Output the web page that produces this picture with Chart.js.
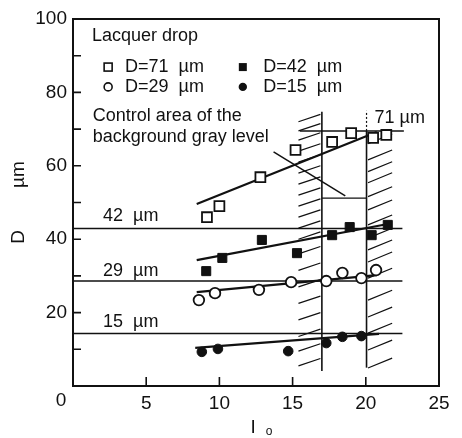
<!DOCTYPE html>
<html>
<head>
<meta charset="utf-8">
<script src="https://cdn.jsdelivr.net/npm/chart.js@4.4.1/dist/chart.umd.min.js"></script>
<style>
html, body { margin: 0; padding: 0; background: #fff; }
#wrap { width: 462px; height: 438px; }
</style>
</head>
<body>
<div id="wrap"><canvas id="chart"></canvas></div>
<script>
// 測定点 (I0, D)
const sq71X = [9.15, 10.0, 12.8, 15.2, 17.7, 19.0, 20.5, 21.4];
const sq71Y = [46.0, 49.0, 56.9, 64.3, 66.5, 68.9, 67.6, 68.4];
const sq42X = [9.1, 10.2, 12.9, 15.3, 17.7, 18.9, 20.4, 21.5];
const sq42Y = [31.3, 34.9, 39.8, 36.2, 41.1, 43.3, 41.1, 43.9];
const ci29X = [8.6, 9.7, 12.7, 14.9, 17.3, 18.4, 19.7, 20.7];
const ci29Y = [23.4, 25.3, 26.2, 28.3, 28.6, 30.8, 29.4, 31.6];
const ci15X = [8.8, 9.9, 14.7, 17.3, 18.4, 19.7];
const ci15Y = [9.3, 10.1, 9.5, 11.7, 13.4, 13.6];

// 近似直線 [x1, y1, x2, y2]
const fit71 = [8.45, 49.6, 20.75, 69.2];
const fit42 = [8.45, 34.3, 21.6, 44.2];
const fit29 = [8.45, 25.6, 20.75, 30.2];
const fit15 = [8.35, 10.4, 20.9, 14.2];

// 実際の粒径の水平線 [y, xStart, xEnd]
const ref71 = [69.5, 15.5, 22.6];
const ref42 = [42.9, 0, 22.5];
const ref29 = [28.6, 0, 22.5];
const ref15 = [14.3, 0, 22.5];

// 背景グレーレベルの制御範囲
const ctrlLeft = [17.0, 4.1, 74.7];    // x, yBottom, yTop
const ctrlRight = [20.05, 5.0, 69.5, 75.0]; // x, yBottom, ySolidTop, yDashTop
const ctrlBox = [51.2, 17.0, 20.05];  // y, x1, x2
const pointer = [13.7, 63.8, 18.6, 51.8];

// ハッチングの位置 (下端のy)
const hatchLeftY = [72, 69.5, 67, 64, 61, 58, 55, 52, 49, 46, 43, 40, 36, 31.5, 27, 22.5, 18, 13.5, 9.5, 5.5];
const hatchRightY = [66, 61.6, 58.4, 55.4, 51.6, 48.0, 43.9, 40.3, 37.1, 33.8, 29.4, 23.4, 18.8, 14.4, 9.8, 4.9];

// 目盛り
const xTickVals = [0, 5, 10, 15, 20, 25];
const yTickLabelVals = [20, 40, 60, 80, 100];

const FONT = "'Liberation Sans', Arial, sans-serif";

function pts(xs, ys) {
    return xs.map((x, i) => ({ x: x, y: ys[i] }));
}
function seg(a) {
    return [{ x: a[0], y: a[1] }, { x: a[2], y: a[3] }];
}
function hline(a) {
    return [{ x: a[1], y: a[0] }, { x: a[2], y: a[0] }];
}
function hatches(ys, x1, x2, rise) {
    const out = [];
    ys.forEach(y => {
        out.push({ x: x1, y: y });
        out.push({ x: x2, y: y + rise });
        out.push({ x: x2, y: null });
    });
    return out;
}

function lineDs(data, width, dash) {
    return {
        type: 'line',
        data: data,
        borderColor: '#111',
        borderWidth: width,
        borderDash: dash || [],
        pointRadius: 0,
        fill: false,
        tension: 0,
        spanGaps: false,
        order: 5,
    };
}

function pointDs(data, style, radius, filled) {
    return {
        type: 'scatter',
        data: data,
        pointStyle: style,
        pointRadius: radius,
        pointHoverRadius: radius,
        pointBorderWidth: filled ? 1 : 1.8,
        pointBorderColor: '#111',
        pointBackgroundColor: filled ? '#111' : '#fff',
        showLine: false,
        order: 1,
    };
}

const datasets = [
    pointDs(pts(sq71X, sq71Y), 'rect', 7, false),
    pointDs(pts(sq42X, sq42Y), 'rect', 6.4, true),
    pointDs(pts(ci29X, ci29Y), 'circle', 5.3, false),
    pointDs(pts(ci15X, ci15Y), 'circle', 4.8, true),
    lineDs(seg(fit71), 2.2),
    lineDs(seg(fit42), 2.2),
    lineDs(seg(fit29), 2.2),
    lineDs(seg(fit15), 2.2),
    lineDs(hline(ref71), 1.5),
    lineDs(hline(ref42), 1.5),
    lineDs(hline(ref29), 1.5),
    lineDs(hline(ref15), 1.5),
    lineDs([{ x: ctrlLeft[0], y: ctrlLeft[1] }, { x: ctrlLeft[0], y: ctrlLeft[2] }], 1.6),
    lineDs([{ x: ctrlRight[0], y: ctrlRight[1] }, { x: ctrlRight[0], y: ctrlRight[2] }], 1.6),
    lineDs([{ x: ctrlRight[0], y: ctrlRight[2] }, { x: ctrlRight[0], y: ctrlRight[3] }], 1.2, [2, 2]),
    lineDs(hline(ctrlBox), 1.4),
    lineDs(seg(pointer), 1.5),
    lineDs(hatches(hatchLeftY, 15.4, 16.9, 2.0), 1.2),
    lineDs(hatches(hatchRightY, 20.15, 21.8, 2.7), 1.2),
];

// 枠・内向き目盛り・注記
const annotations = {
    id: 'annotations',
    afterDraw(chart) {
        const { ctx, chartArea: a, scales } = chart;
        const X = v => scales.x.getPixelForValue(v);
        const Y = v => scales.y.getPixelForValue(v);
        ctx.save();
        ctx.strokeStyle = '#111';
        ctx.fillStyle = '#111';
        ctx.lineWidth = 2;
        ctx.strokeRect(a.left, a.top, a.right - a.left, a.bottom - a.top);

        ctx.lineWidth = 1.6;
        ctx.beginPath();
        for (let v = 10; v < 100; v += 10) {
            ctx.moveTo(a.left, Y(v));
            ctx.lineTo(a.left + 8, Y(v));
        }
        for (let v = 5; v < 25; v += 5) {
            ctx.moveTo(X(v), a.bottom);
            ctx.lineTo(X(v), a.bottom - 9);
        }
        ctx.stroke();

        ctx.font = '18px ' + FONT;
        ctx.textBaseline = 'middle';
        ctx.textAlign = 'left';
        ctx.fillText('Lacquer drop', X(1.3), Y(95.4));
        ctx.fillText('D=71  µm', X(3.55), Y(86.9));
        ctx.fillText('D=29  µm', X(3.55), Y(81.5));
        ctx.fillText('D=42  µm', X(13.0), Y(86.9));
        ctx.fillText('D=15  µm', X(13.0), Y(81.5));
        ctx.fillText('Control area of the', X(1.35), Y(73.6));
        ctx.fillText('background gray level', X(1.35), Y(67.9));
        ctx.fillText('42  µm', X(2.05), Y(46.4));
        ctx.fillText('29  µm', X(2.05), Y(31.4));
        ctx.fillText('15  µm', X(2.05), Y(17.5));
        ctx.fillText('71 µm', X(20.6), Y(73.0));

        // 凡例の記号
        ctx.lineWidth = 1.6;
        ctx.strokeRect(X(2.4) - 4, Y(86.9) - 4, 8, 8);
        ctx.beginPath();
        ctx.arc(X(2.4), Y(81.5), 4, 0, Math.PI * 2);
        ctx.stroke();
        ctx.fillRect(X(11.6) - 4, Y(86.9) - 4, 8, 8);
        ctx.beginPath();
        ctx.arc(X(11.6), Y(81.5), 4.2, 0, Math.PI * 2);
        ctx.fill();

        // 原点の0と横軸タイトル
        ctx.font = '19px ' + FONT;
        ctx.textAlign = 'center';
        ctx.fillText('0', a.left - 12, a.bottom + 15);
        ctx.fillText('I', X(12.3), a.bottom + 42);
        ctx.font = '12px ' + FONT;
        ctx.fillText('o', X(13.4), a.bottom + 46);
        ctx.restore();
    }
};

new Chart(document.getElementById('chart'), {
    type: 'scatter',
    data: { datasets: datasets },
    options: {
        responsive: true,
        maintainAspectRatio: false,
        animation: false,
        layout: { padding: { top: 19, right: 23, left: 0, bottom: 0 } },
        plugins: {
            legend: { display: false },
            tooltip: { enabled: false },
        },
        scales: {
            x: {
                type: 'linear',
                min: 0,
                max: 25,
                grid: { display: false, drawTicks: false },
                border: { display: false },
                afterBuildTicks: s => { s.ticks = xTickVals.map(v => ({ value: v })); },
                ticks: {
                    padding: 6,
                    color: '#111',
                    font: { size: 19, family: FONT },
                    callback: v => (v === 0 ? '' : v),
                },
                afterFit: s => { s.height = 52; },
            },
            y: {
                type: 'linear',
                min: 0,
                max: 100,
                grid: { display: false, drawTicks: false },
                border: { display: false },
                afterBuildTicks: s => { s.ticks = yTickLabelVals.map(v => ({ value: v })); },
                ticks: {
                    padding: 6,
                    color: '#111',
                    font: { size: 19, family: FONT },
                },
                title: {
                    display: true,
                    text: 'D        µm',
                    color: '#111',
                    font: { size: 19, family: FONT },
                    padding: { top: 7, bottom: 0 },
                },
                afterFit: s => { s.width = 73; },
            },
        },
    },
    plugins: [annotations],
});
</script>
</body>
</html>
